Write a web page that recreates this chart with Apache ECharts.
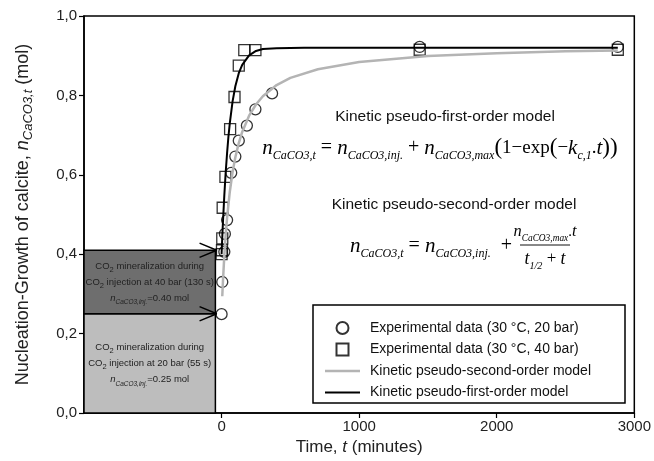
<!DOCTYPE html>
<html>
<head>
<meta charset="utf-8">
<script src="https://cdn.jsdelivr.net/npm/echarts@6/dist/echarts.min.js"></script>
<style>html,body{margin:0;padding:0;background:#fff;}#c{width:654px;height:461px;}</style>
</head>
<body>
<div id="c"></div>
<script>
// ---- data ----
const timeTicks = [0, 1000, 2000, 3000];
const yTicks = [0, 0.2, 0.4, 0.6, 0.8, 1.0];
// Experimental data (30 °C, 20 bar): [time (min), n (mol)]
const circles20 = [[0,0.249],[5,0.330],[20,0.406],[24,0.451],[40,0.486],[70,0.605],[100,0.646],[125,0.686],[184,0.724],[246,0.765],[367,0.805],[1440,0.922],[2880,0.922]];
// Experimental data (30 °C, 40 bar)
const squares40 = [[0,0.400],[3,0.410],[5,0.440],[8,0.517],[28,0.595],[62,0.715],[94,0.796],[125,0.875],[165,0.914],[246,0.914],[1440,0.915],[2880,0.915]];
// Kinetic pseudo-second-order model (grey curve)
const secondOrder = [[5,0.294],[10,0.332],[20,0.397],[30,0.449],[40,0.492],[60,0.558],[80,0.607],[100,0.644],[125,0.680],[150,0.708],[200,0.749],[250,0.777],[300,0.798],[400,0.826],[500,0.844],[700,0.866],[1000,0.884],[1500,0.899],[2000,0.906],[2500,0.911],[2880,0.913]];
// Kinetic pseudo-first-order model (black curve)
const firstOrder = [[0,0.400],[5,0.443],[10,0.481],[20,0.549],[30,0.607],[40,0.655],[50,0.697],[60,0.731],[80,0.785],[100,0.823],[125,0.856],[150,0.877],[200,0.901],[250,0.912],[300,0.917],[400,0.919],[600,0.920],[2880,0.920]];
// Injection regions: [x start, x end, y low, y high]
const injection20 = [-1000, -45, 0, 0.25];
const injection40 = [-1000, -45, 0.25, 0.41];
// arrow tips [time, n]
const arrowTips = [[-35, 0.41], [-35, 0.25]];
const legendNames = ['Experimental data (30 °C, 20 bar)', 'Experimental data (30 °C, 40 bar)', 'Kinetic pseudo-second-order model', 'Kinetic pseudo-first-order model'];

const SANS = 'Liberation Sans';
const SERIF = 'Liberation Serif';
const chart = echarts.init(document.getElementById('c'), null, {renderer: 'canvas'});

const boxRich = {
  t: {fontFamily: SANS, fontSize: 9.5, color: '#222', lineHeight: 16},
  sub: {fontFamily: SANS, fontSize: 7.5, color: '#222', verticalAlign: 'bottom', lineHeight: 10},
  it: {fontFamily: SANS, fontStyle: 'italic', fontSize: 9.5, color: '#222', lineHeight: 16},
  isub: {fontFamily: SANS, fontStyle: 'italic', fontSize: 6.5, color: '#222', verticalAlign: 'bottom', lineHeight: 10}
};
function boxLabel(bar, sec, n) {
  return '{t|CO}{sub|2}{t| mineralization during}\n{t|CO}{sub|2}{t| injection at ' + bar + ' bar (' + sec + ' s)}\n{it|n}{isub|CaCO3,inj.}{t|=' + n.toFixed(2) + ' mol}';
}

function fRich(k) {
  return {
    n: {fontFamily: SERIF, fontStyle: 'italic', fontSize: 21 * k, color: '#111', lineHeight: 28 * k},
    s: {fontFamily: SERIF, fontStyle: 'italic', fontSize: 12 * k, color: '#111', verticalAlign: 'bottom', lineHeight: 12 * k},
    op: {fontFamily: SERIF, fontSize: 20 * k, color: '#111', lineHeight: 28 * k},
    rm: {fontFamily: SERIF, fontSize: 19 * k, color: '#111', lineHeight: 28 * k},
    bp: {fontFamily: SERIF, fontSize: 23 * k, color: '#111', lineHeight: 28 * k}
  };
}

function chevron(tip) {
  return [[tip[0] - 125, tip[1] + 0.018], tip, [tip[0] - 125, tip[1] - 0.018]];
}

const option = {
  backgroundColor: '#fff',
  animation: false,
  grid: {left: 84, right: 18, top: 16, bottom: 48, show: true, borderColor: '#000', borderWidth: 1.5, backgroundColor: 'transparent'},
  xAxis: {
    type: 'value', min: -1000, max: 3000, interval: 1000,
    splitLine: {show: false},
    axisLine: {onZero: false, lineStyle: {color: '#000', width: 1.5}},
    axisTick: {show: true, length: 5, lineStyle: {color: '#000', width: 1.2}, customValues: timeTicks},
    axisLabel: {customValues: timeTicks, fontFamily: SANS, fontSize: 15, color: '#222', margin: 6,
      formatter: v => String(v)},
    name: 'Time, {it|t} (minutes)', nameLocation: 'middle', nameGap: 26,
    nameTextStyle: {fontFamily: SANS, fontSize: 17, color: '#222',
      rich: {it: {fontFamily: SANS, fontStyle: 'italic', fontSize: 17, color: '#222'}}}
  },
  yAxis: {
    type: 'value', min: 0, max: 1, interval: 0.2,
    splitLine: {show: false},
    axisLine: {show: true, onZero: false, lineStyle: {color: '#000', width: 1.5}},
    axisTick: {show: true, length: 5, lineStyle: {color: '#000', width: 1.2}},
    axisLabel: {fontFamily: SANS, fontSize: 15, color: '#222', margin: 7,
      formatter: v => v.toFixed(1).replace('.', ',')},
    name: 'Nucleation-Growth of calcite, {it|n}{sub|CaCO3,t} (mol)', nameLocation: 'middle', nameGap: 49,
    nameTextStyle: {fontFamily: SANS, fontSize: 18, color: '#222',
      rich: {
        it: {fontFamily: SANS, fontStyle: 'italic', fontSize: 18, color: '#222', lineHeight: 24},
        sub: {fontFamily: SANS, fontStyle: 'italic', fontSize: 13, color: '#222', verticalAlign: 'bottom', lineHeight: 12}
      }}
  },
  legend: {
    data: [
      {name: legendNames[0], icon: 'circle'},
      {name: legendNames[1], icon: 'path://M0,0L10,0L10,10L0,10Z'},
      {name: legendNames[2], icon: 'path://M0,0L35,0L35,2.5L0,2.5Z'},
      {name: legendNames[3], icon: 'path://M0,0L35,0L35,2.2L0,2.2Z'}
    ],
    orient: 'vertical', left: 325, top: 321, padding: 0, symbolKeepAspect: true,
    itemWidth: 35, itemHeight: 12, itemGap: 7.5, z: 10,
    textStyle: {fontFamily: SANS, fontSize: 14, color: '#111', padding: [0, 0, 0, 5]}
  },
  graphic: [
    {type: 'rect', z: 5, shape: {x: 313, y: 305, width: 312, height: 98},
      style: {fill: '#fff', stroke: '#000', lineWidth: 1.5}},
    {type: 'text', z: 5, style: {text: 'Kinetic pseudo-first-order model', x: 445, y: 117, align: 'center', verticalAlign: 'middle',
      font: '15.5px "' + SANS + '"', fill: '#111'}},
    {type: 'text', z: 5, style: {
      text: '{n|n}{s|CaCO3,t}{op| = }{n|n}{s|CaCO3,inj.}{op| + }{n|n}{s|CaCO3,max}{bp|(}{rm|1−exp}{bp|(}{rm|−}{n|k}{s|c,1}{rm|.}{n|t}{bp|))}',
      rich: fRich(1), x: 440, y: 148, align: 'center', verticalAlign: 'middle'}},
    {type: 'text', z: 5, style: {text: 'Kinetic pseudo-second-order model', x: 454, y: 205, align: 'center', verticalAlign: 'middle',
      font: '15.5px "' + SANS + '"', fill: '#111'}},
    {type: 'text', z: 5, style: {
      text: '{n|n}{s|CaCO3,t}{op| = }{n|n}{s|CaCO3,inj.}{op|  + }',
      rich: fRich(1), x: 517, y: 246, align: 'right', verticalAlign: 'middle'}},
    {type: 'text', z: 5, style: {
      text: '{n|n}{s|CaCO3,max}{rm|.}{n|t}',
      rich: fRich(0.78), x: 545, y: 232, align: 'center', verticalAlign: 'middle'}},
    {type: 'line', z: 5, shape: {x1: 520, y1: 245, x2: 570, y2: 245}, style: {stroke: '#111', lineWidth: 1}},
    {type: 'text', z: 5, style: {
      text: '{n|t}{s|1/2}{op| + }{n|t}',
      rich: fRich(0.85), x: 545, y: 259, align: 'center', verticalAlign: 'middle'}}
  ],
  series: [
    {
      type: 'scatter', name: 'regions', data: [], silent: true, z: 1,
      markArea: {
        silent: true,
        data: [
          [{xAxis: injection20[0], yAxis: injection20[2],
            itemStyle: {color: '#bdbdbd', borderColor: '#000', borderWidth: 1.5},
            label: {show: true, position: 'inside', formatter: boxLabel(20, 55, 0.25), rich: boxRich, align: 'center', verticalAlign: 'middle'}},
           {xAxis: injection20[1], yAxis: injection20[3]}],
          [{xAxis: injection40[0], yAxis: injection40[2],
            itemStyle: {color: '#6e6e6e', borderColor: '#000', borderWidth: 1.5},
            label: {show: true, position: 'inside', formatter: boxLabel(40, 130, 0.40), rich: boxRich, align: 'center', verticalAlign: 'middle'}},
           {xAxis: injection40[1], yAxis: injection40[3]}]
        ]
      }
    },
    {
      type: 'line', name: 'arrow1', data: chevron(arrowTips[0]), symbol: 'none', silent: true, z: 3,
      lineStyle: {color: '#000', width: 1.5}
    },
    {
      type: 'line', name: 'arrow2', data: chevron(arrowTips[1]), symbol: 'none', silent: true, z: 3,
      lineStyle: {color: '#000', width: 1.5}
    },
    {
      type: 'scatter', name: legendNames[0], data: circles20, symbol: 'circle', symbolSize: 11, z: 2,
      itemStyle: {color: 'rgba(255,255,255,0)', borderColor: '#000', borderWidth: 1.3}
    },
    {
      type: 'scatter', name: legendNames[1], data: squares40, symbol: 'rect', symbolSize: 11, z: 2,
      itemStyle: {color: 'rgba(255,255,255,0)', borderColor: '#000', borderWidth: 1.3}
    },
    {
      type: 'line', name: legendNames[2], data: secondOrder, symbol: 'none', smooth: false, z: 3,
      lineStyle: {color: '#b4b4b4', width: 2.5}, itemStyle: {color: '#b4b4b4'}
    },
    {
      type: 'line', name: legendNames[3], data: firstOrder, symbol: 'none', smooth: false, z: 4,
      lineStyle: {color: '#000', width: 2}, itemStyle: {color: '#000'}
    }
  ]
};
chart.setOption(option);
</script>
</body>
</html>
